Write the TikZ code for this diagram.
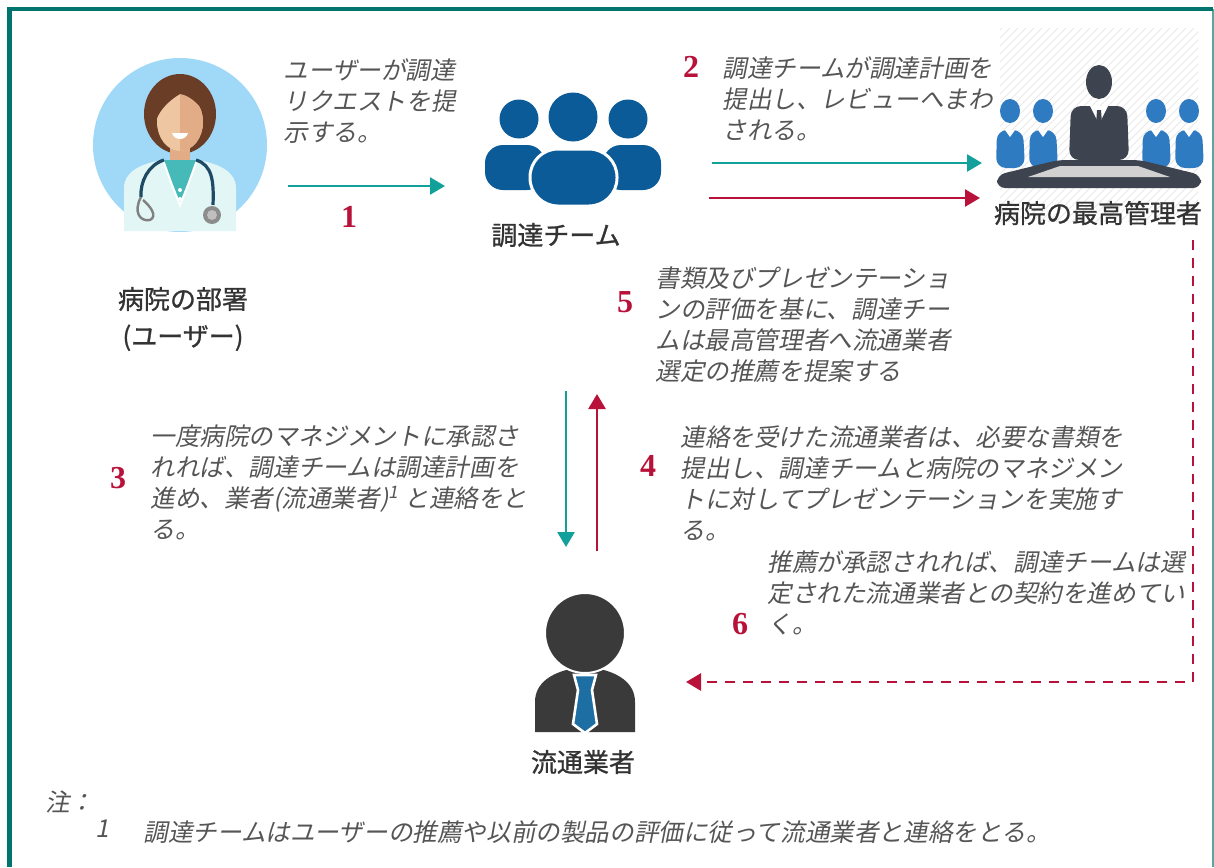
\documentclass[tikz,border=0pt]{standalone}
\usepackage{fontspec}
\setmainfont{Liberation Serif}
\newfontfamily\jpfont[FakeBold=0.9]{Noto Sans CJK JP}
\newfontfamily\jpitfont[FakeSlant=0.2]{Noto Sans CJK JP}
\usetikzlibrary{arrows.meta}

\definecolor{frameteal}{HTML}{00756F}
\definecolor{arrteal}{HTML}{12A09A}
\definecolor{arrred}{HTML}{B8123A}
\definecolor{txtgray}{HTML}{555555}
\definecolor{teamblue}{HTML}{0A5B98}
\definecolor{boardblue}{HTML}{2F7BC2}
\definecolor{boardgray}{HTML}{3D4450}
\definecolor{vendgray}{HTML}{3A3A3A}
\definecolor{tieblue}{HTML}{1D6FA3}
\definecolor{docblue}{HTML}{A0D8F8}
\definecolor{hair}{HTML}{6A3D26}
\definecolor{skin}{HTML}{EFC6A2}
\definecolor{skindark}{HTML}{E2AD86}
\definecolor{coat}{HTML}{E2F6F5}
\definecolor{shirt}{HTML}{46B9B9}
\definecolor{steth}{HTML}{1E4A66}

\begin{document}
\begin{tikzpicture}[x=0.5pt,y=-0.5pt,
    desc/.style={anchor=north west,inner sep=0pt,align=left,text=txtgray,%
      font=\jpitfont\fontsize{12.3}{15.5}\selectfont},
    who/.style={inner sep=0pt,align=center,text=black!80,%
      font=\jpfont\fontsize{13}{18.5}\selectfont},
    num/.style={inner sep=0pt,text=arrred,font=\bfseries\fontsize{16}{16}\selectfont},
    tealarrow/.style={arrteal,line width=1.3pt,-{Triangle[length=7.5pt,width=8.5pt]}},
    redarrow/.style={arrred,line width=1.3pt,-{Triangle[length=7.5pt,width=8.5pt]}}]
      \useasboundingbox (0,0) rectangle (1214,867) ;
      % frame
      \draw[frameteal!65,line width=0.6pt] (1213,9)--(1213,867) ;
      \draw[frameteal,line width=2.4pt] (9.5,867)--(9.5,9)--(1213,9) ;

      % user: doctor
      \begin{scope}
      \clip (90,50) rectangle (270,231) ;
      \fill[docblue] (180,145) circle (87) ;
      \fill[hair] (180,114) ellipse (36 and 40) ;
      \fill[skindark] (170,140) rectangle (190,168) ;
      \fill[skin] (180,122) ellipse (23 and 29) ;
      \begin{scope}
        \clip (180,122) ellipse (23 and 29) ;
        \fill[skindark] (180,90) rectangle (206,155) ;
      \end{scope}
      \fill[hair] (156,120) .. controls (154,84) and (204,78) .. (205,114) %
        .. controls (198,102) and (188,95) .. (180,94) .. controls (170,100) and (161,108) .. (156,120) -- cycle ;
      \fill[white] (172,133) -- (188,133) .. controls (186,141) and (174,141) .. (172,133) -- cycle ;
      \fill[coat] (124,231) -- (124,188) .. controls (124,172) and (140,164) .. (162,160) %
        -- (198,160) .. controls (220,164) and (236,172) .. (236,188) -- (236,231) -- cycle ;
      \fill[shirt] (163,160) -- (197,160) -- (180,205) -- cycle ;
      \draw[white,line width=1pt] (163,160)--(172,185)--(180,205)--(188,185)--(197,160) ;
      \fill[white] (180,190) circle (2) (180,199) circle (2) ;
      \draw[steth,line width=1.6pt] (164,160) .. controls (148,165) and (140,182) .. (141,197) ;
      \draw[steth,line width=1.6pt] (196,160) .. controls (212,165) and (214,180) .. (213,205) ;
      \draw[gray,line width=1.2pt] (141,197) .. controls (133,212) and (140,222) .. (150,220) %
        .. controls (158,216) and (150,206) .. (143,200) ;
      \fill[gray!90] (212,215) circle (9) ;
      \fill[gray!50] (212,215) circle (5) ;
      \end{scope}
      \node[who] (lbldoc) at (183,319) {病院の部署\\(ユーザー)} ;

      % procurement team
      \fill[teamblue,rounded corners=9] (485,145) rectangle (545,190) ;
      \fill[teamblue,rounded corners=9] (603,145) rectangle (661,190) ;
      \filldraw[teamblue,draw=white,line width=1.5pt,rounded corners=14] (530,149) rectangle (617,206) ;
      \fill[teamblue] (519,119) circle (19.5) (628,119) circle (19.5) ;
      \fill[teamblue] (573,117) circle (24.5) ;
      \node[who] (lblteam) at (556,235) {調達チーム} ;

      % top management
      \begin{scope}
      \clip (1000,28) rectangle (1198,222) ;
      \foreach \k in {0,8,...,400}
        \draw[black!9,line width=0.5pt] (800+\k,222) -- ++(200,-200) ;
      \end{scope}
      \fill[boardgray] (1099,82) ellipse (13 and 17) ;
      \fill[boardgray,rounded corners=5] (1069,160) -- (1071,106) -- (1127,106) -- (1129,160) -- cycle ;
      \fill[white] (1090,106) -- (1099,124) -- (1108,106) -- cycle ;
      \fill[boardgray] (1097,110) -- (1101,110) -- (1102,124) -- (1099,127) -- (1096,124) -- cycle ;
      \foreach \bx in {1010,1043,1156,1189} {
        \fill[boardblue] (\bx,111) ellipse (10 and 12) ;
        \fill[boardblue,rounded corners=5] (\bx-14,168) -- (\bx-13,130) -- (\bx+13,130) -- (\bx+15,168) -- cycle ;
        \fill[white] (\bx-5,130) -- (\bx,137) -- (\bx+5,130) -- cycle ;
      }
      \fill[boardgray,rounded corners=4] (997,188) -- (997,175) -- (1058,160) -- (1140,160) %
        -- (1201,175) -- (1201,188) -- cycle ;
      \fill[black!18] (1060,166) -- (1138,166) -- (1170,177) -- (1028,177) -- cycle ;
      \node[who] (lblboard) at (1098,213) {病院の最高管理者} ;

      % supplier
      \fill[vendgray] (535,732) -- (535,702) .. controls (535,682) and (553,673) .. (570,669) %
        -- (600,669) .. controls (617,673) and (635,682) .. (635,702) -- (635,732) -- cycle ;
      \filldraw[vendgray,draw=white,line width=1pt] (585,633) circle (40) ;
      \filldraw[tieblue,draw=white,line width=1.3pt] (574,675) -- (596,675) -- (592,690) %
        -- (597,724) -- (585,733) -- (573,724) -- (578,690) -- cycle ;
      \node[who] (lblvend) at (583,762) {流通業者} ;

      % step texts
      \node[desc] (t1) at (283,58) {ユーザーが調達\\リクエストを提\\示する。} ;
      \node[desc] (t2) at (722,56) {調達チームが調達計画を\\提出し、レビューへまわ\\される。} ;
      \node[desc] (t5) at (655,266) {書類及びプレゼンテーショ\\ンの評価を基に、調達チー\\ムは最高管理者へ流通業者\\選定の推薦を提案する} ;
      \node[desc] (t3) at (150,424) {一度病院のマネジメントに承認さ\\れれば、調達チームは調達計画を\\進め、業者(流通業者)\textsuperscript{1} と連絡をと\\る。} ;
      \node[desc] (t4) at (680,425) {連絡を受けた流通業者は、必要な書類を\\提出し、調達チームと病院のマネジメン\\トに対してプレゼンテーションを実施す\\る。} ;
      \node[desc] (t6) at (767,550) {推薦が承認されれば、調達チームは選\\定された流通業者との契約を進めてい\\く。} ;

      \node[num] (n1) at (349,217) {1} ;
      \node[num] (n2) at (691,67) {2} ;
      \node[num] (n3) at (118,478) {3} ;
      \node[num] (n4) at (648,466) {4} ;
      \node[num] (n5) at (625,302) {5} ;
      \node[num] (n6) at (740,624) {6} ;

      % connectors
      \coordinate (s1) at (288,186) ; \coordinate (e1) at (445,186) ;
      \coordinate (s2) at (712,163) ; \coordinate (e2) at (982,163) ;
      \coordinate (s5) at (709,198) ; \coordinate (e5) at (980,198) ;
      \coordinate (s3) at (566,391) ; \coordinate (e3) at (566,547) ;
      \coordinate (s4) at (597,551) ; \coordinate (e4) at (597,394) ;
      \coordinate (s6) at (1193,240) ; \coordinate (e6) at (686,682) ;
      \draw[tealarrow] (s1) -- (e1) ;
      \draw[tealarrow] (s2) -- (e2) ;
      \draw[redarrow] (s5) -- (e5) ;
      \draw[tealarrow] (s3) -- (e3) ;
      \draw[redarrow] (s4) -- (e4) ;
      \draw[redarrow,line width=1.4pt,dash pattern=on 5pt off 4pt] (s6) |- (e6) ;

      % footnote
      \node[desc] (fnhead) at (45,790) {注：} ;
      \node[desc] (fnnum) at (95,820) {1} ;
      \node[desc] (fntext) at (143,820) {調達チームはユーザーの推薦や以前の製品の評価に従って流通業者と連絡をとる。} ;
    \end{tikzpicture}
\end{document}
